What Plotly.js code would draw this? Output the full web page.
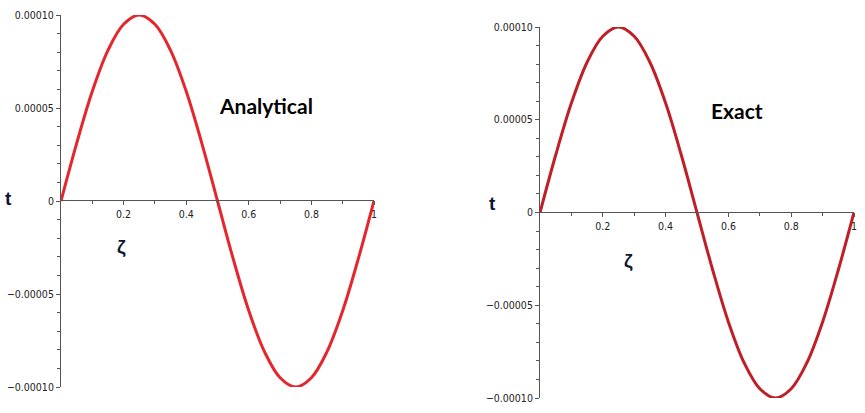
<!DOCTYPE html>
<html>
<head>
<meta charset="utf-8">
<script src="https://cdn.plot.ly/plotly-3.0.1.min.js"></script>
<style>html,body{margin:0;padding:0;background:#fff;}#chart{width:865px;height:413px;}</style>
</head>
<body>
<div id="chart"></div>
<script>
// ζ values and t values (both panels show the same curve)
const zeta = [0, 0.05, 0.1, 0.15, 0.2, 0.25, 0.3, 0.35, 0.4, 0.45, 0.5, 0.55, 0.6, 0.65, 0.7, 0.75, 0.8, 0.85, 0.9, 0.95, 1];
const tAnalytical = [0, 0.000031, 0.000059, 0.000081, 0.000095, 0.0001, 0.000095, 0.000081, 0.000059, 0.000031, 0, -0.000031, -0.000059, -0.000081, -0.000095, -0.0001, -0.000095, -0.000081, -0.000059, -0.000031, 0];
const tExact = [0, 0.000031, 0.000059, 0.000081, 0.000095, 0.0001, 0.000095, 0.000081, 0.000059, 0.000031, 0, -0.000031, -0.000059, -0.000081, -0.000095, -0.0001, -0.000095, -0.000081, -0.000059, -0.000031, 0];
const xTickVals = [0.2, 0.4, 0.6, 0.8, 1];
const xTickText = ["0.2", "0.4", "0.6", "0.8", "1"];
const yTickVals = [-0.0001, -0.00005, 0, 0.00005, 0.0001];
const yTickText = ["\u22120.00010", "\u22120.00005", "0", "0.00005", "0.00010"];

const W = 865, H = 413;
const px = v => v / W;
const py = v => 1 - v / H;

const tickFont = {family: "DejaVu Sans Condensed, Liberation Sans, Arial, sans-serif", size: 10.5, color: "#222"};

function xAxis(d0, d1, pos) {
  return {
    domain: [px(d0), px(d1)], range: [0, 1], anchor: "free", position: pos,
    showline: true, linecolor: "#555", linewidth: 1, showgrid: false, zeroline: false,
    tickmode: "array", tickvals: xTickVals, ticktext: xTickText,
    ticks: "outside", ticklen: 4, tickcolor: "#555", tickfont: tickFont,
    minor: {tickmode: "array", tickvals: [0.1, 0.3, 0.5, 0.7, 0.9], ticks: "outside", ticklen: 3, tickcolor: "#555", showgrid: false},
    fixedrange: true
  };
}
function yAxis(top, bot, xa) {
  return {
    domain: [py(bot), py(top)], range: [-0.0001, 0.0001], anchor: xa,
    showline: true, linecolor: "#555", linewidth: 1, showgrid: false, zeroline: false,
    tickmode: "array", tickvals: yTickVals, ticktext: yTickText,
    ticks: "outside", ticklen: 4, tickcolor: "#555", tickfont: tickFont,
    minor: {tickmode: "linear", tick0: 0, dtick: 0.00001, ticks: "outside", ticklen: 3, tickcolor: "#555", showgrid: false},
    fixedrange: true
  };
}

const traces = [
  {x: zeta, y: tAnalytical, xaxis: "x", yaxis: "y", mode: "lines", line: {color: "#e5262d", width: 3, shape: "spline"}, hoverinfo: "skip"},
  {x: zeta, y: tExact, xaxis: "x2", yaxis: "y2", mode: "lines", line: {color: "#bf1f27", width: 3, shape: "spline"}, hoverinfo: "skip"}
];

const labelFont = {family: "Liberation Sans, Arial, sans-serif", size: 19, color: "#0d1530"};
const titleFont = {family: "Lato, Open Sans, sans-serif", size: 21, color: "#000"};

const layout = {
  width: W, height: H,
  margin: {l: 0, r: 0, t: 0, b: 0},
  paper_bgcolor: "#fff", plot_bgcolor: "rgba(0,0,0,0)",
  showlegend: false,
  xaxis: xAxis(61, 374, py(200)),
  yaxis: yAxis(15, 387, "x"),
  xaxis2: xAxis(540, 854, py(212)),
  yaxis2: yAxis(27, 398, "x2"),
  annotations: [
    {text: "<b>Analytical</b>", xref: "paper", yref: "paper", x: px(217), y: py(105), xanchor: "left", yanchor: "middle", showarrow: false, font: titleFont},
    {text: "<b>Exact</b>", xref: "paper", yref: "paper", x: px(709), y: py(110), xanchor: "left", yanchor: "middle", showarrow: false, font: titleFont},
    {text: "<b>t</b>", xref: "paper", yref: "paper", x: px(8), y: py(198), xanchor: "center", yanchor: "middle", showarrow: false, font: labelFont},
    {text: "<b>ζ</b>", xref: "paper", yref: "paper", x: px(121), y: py(247), xanchor: "center", yanchor: "middle", showarrow: false, font: labelFont},
    {text: "<b>t</b>", xref: "paper", yref: "paper", x: px(492), y: py(203), xanchor: "center", yanchor: "middle", showarrow: false, font: labelFont},
    {text: "<b>ζ</b>", xref: "paper", yref: "paper", x: px(628), y: py(261), xanchor: "center", yanchor: "middle", showarrow: false, font: labelFont}
  ]
};

Plotly.newPlot("chart", traces, layout, {displayModeBar: false, staticPlot: true});
</script>
</body>
</html>
